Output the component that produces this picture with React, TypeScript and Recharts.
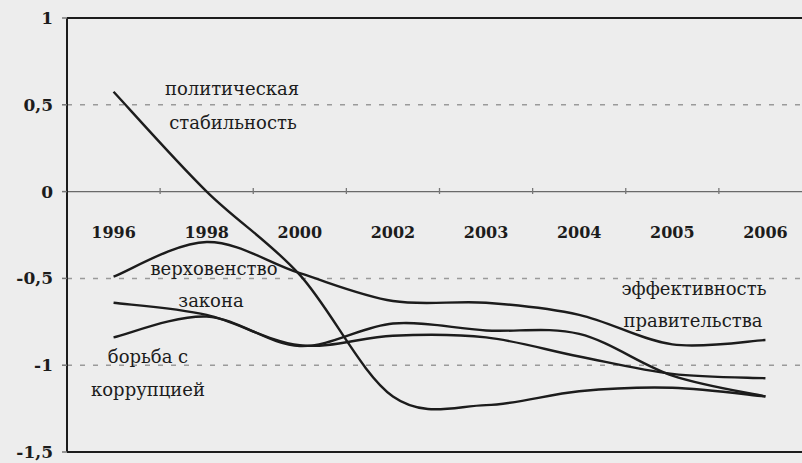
import React from "react";
import { LineChart, Line, XAxis, YAxis, ReferenceLine } from "recharts";

const years = ["1996", "1998", "2000", "2002", "2003", "2004", "2005", "2006"];
const politicalStability = [0.575, 0.0, -0.48, -1.18, -1.23, -1.15, -1.13, -1.18];
const govEffectiveness = [-0.49, -0.29, -0.47, -0.63, -0.64, -0.71, -0.88, -0.855];
const ruleOfLaw = [-0.64, -0.71, -0.885, -0.83, -0.84, -0.95, -1.05, -1.075];
const corruptionControl = [-0.84, -0.72, -0.89, -0.76, -0.8, -0.82, -1.06, -1.18];

const yTicks = [1, 0.5, 0, -0.5, -1, -1.5];
const dashedLevels = [0.5, -0.5, -1];

const chartData = years.map((year, i) => ({
  year,
  politicalStability: politicalStability[i],
  govEffectiveness: govEffectiveness[i],
  ruleOfLaw: ruleOfLaw[i],
  corruptionControl: corruptionControl[i],
}));

const INK = "#1c1c1c";
const SERIF = "DejaVu Serif";

// smoothed line like in the spreadsheet original (catmull-rom through the points)
function smoothCurve(context: any) {
  let pts: number[][] = [];
  return {
    areaStart() {},
    areaEnd() {},
    lineStart() {
      pts = [];
    },
    point(x: number, y: number) {
      pts.push([+x, +y]);
    },
    lineEnd() {
      const n = pts.length;
      if (!n) return;
      context.moveTo(pts[0][0], pts[0][1]);
      for (let i = 0; i < n - 1; i++) {
        const p0 = pts[Math.max(i - 1, 0)];
        const p1 = pts[i];
        const p2 = pts[i + 1];
        const p3 = pts[Math.min(i + 2, n - 1)];
        context.bezierCurveTo(
          p1[0] + (p2[0] - p0[0]) / 6,
          p1[1] + (p2[1] - p0[1]) / 6,
          p2[0] - (p3[0] - p1[0]) / 6,
          p2[1] - (p3[1] - p1[1]) / 6,
          p2[0],
          p2[1]
        );
      }
    },
  };
}

// year labels sit just under the zero line, not at the bottom of the frame
const YearTick = (props: any) => {
  const { x, y, payload } = props;
  const half = payload.offset || 46.5;
  return (
    <g>
      <text
        x={x}
        y={y - 214}
        textAnchor="middle"
        fill={INK}
        style={{ fontFamily: SERIF, fontWeight: "bold", fontSize: 16 }}
      >
        {payload.value}
      </text>
      {payload.index > 0 && (
        <line x1={x - half} x2={x - half} y1={y - 264} y2={y - 258} stroke="#777" strokeWidth={1.3} />
      )}
    </g>
  );
};

const notes = [
  { text: "политическая", x: 232, y: 95 },
  { text: "стабильность", x: 233, y: 129 },
  { text: "верховенство", x: 214, y: 275 },
  { text: "закона", x: 211, y: 307 },
  { text: "борьба с", x: 148, y: 363 },
  { text: "коррупцией", x: 148, y: 396 },
  { text: "эффективность", x: 694, y: 295 },
  { text: "правительства", x: 693, y: 327 },
];

export default function App() {
  return (
    <div
      style={{
        position: "absolute",
        left: 0,
        top: 0,
        width: 802,
        height: 463,
        overflow: "hidden",
        background: "#ededed",
      }}
    >
      <LineChart
        width={822}
        height={463}
        data={chartData}
        margin={{ top: 18, right: 10, bottom: 10, left: 7 }}
      >
        <XAxis
          dataKey="year"
          scale="band"
          height={1}
          axisLine={false}
          tickLine={false}
          tickSize={0}
          tickMargin={0}
          interval={0}
          tick={<YearTick />}
        />
        <YAxis
          domain={[-1.5, 1]}
          ticks={yTicks}
          interval={0}
          width={60}
          tickSize={5}
          tickMargin={9}
          tickFormatter={(v: number) => String(v).replace(".", ",")}
          axisLine={{ stroke: INK, strokeWidth: 2 }}
          tickLine={{ stroke: "#777", strokeWidth: 1.5 }}
          tick={{ fill: INK, style: { fontFamily: SERIF, fontWeight: "bold", fontSize: 17 } }}
        />
        <ReferenceLine y={1} stroke={INK} strokeWidth={2} />
        <ReferenceLine y={-1.5} stroke={INK} strokeWidth={2} />
        <ReferenceLine y={0} stroke="#6a6a6a" strokeWidth={1.3} />
        {dashedLevels.map((v) => (
          <ReferenceLine key={v} y={v} stroke="#9a9a9a" strokeWidth={1.5} strokeDasharray="5 8" />
        ))}
        <Line dataKey="politicalStability" type={smoothCurve as any} stroke={INK} strokeWidth={2.4} dot={false} activeDot={false} isAnimationActive={false} />
        <Line dataKey="govEffectiveness" type={smoothCurve as any} stroke={INK} strokeWidth={2.4} dot={false} activeDot={false} isAnimationActive={false} />
        <Line dataKey="ruleOfLaw" type={smoothCurve as any} stroke={INK} strokeWidth={2.4} dot={false} activeDot={false} isAnimationActive={false} />
        <Line dataKey="corruptionControl" type={smoothCurve as any} stroke={INK} strokeWidth={2.4} dot={false} activeDot={false} isAnimationActive={false} />
      </LineChart>
      <svg
        width={802}
        height={463}
        style={{ position: "absolute", left: 0, top: 0, pointerEvents: "none" }}
      >
        {notes.map((n) => (
          <text
            key={n.text}
            x={n.x}
            y={n.y}
            textAnchor="middle"
            fill={INK}
            style={{ fontFamily: SERIF, fontSize: 18 }}
          >
            {n.text}
          </text>
        ))}
      </svg>
    </div>
  );
}
